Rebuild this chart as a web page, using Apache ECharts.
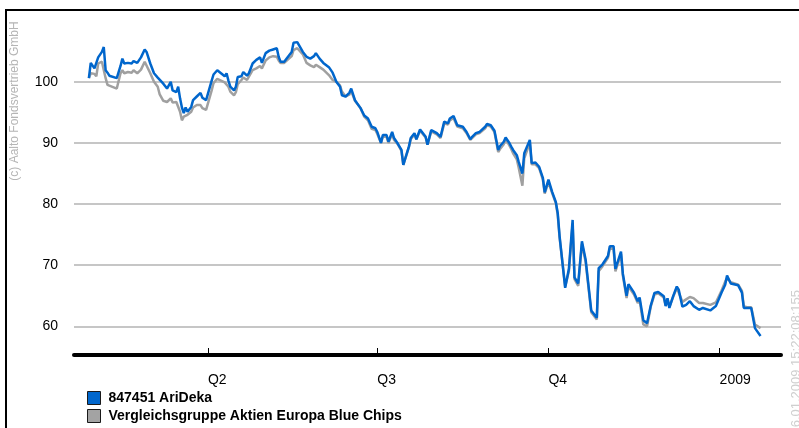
<!DOCTYPE html>
<html>
<head>
<meta charset="utf-8">
<script src="https://cdn.jsdelivr.net/npm/echarts@6/dist/echarts.min.js"></script>
<style>
  html, body { margin: 0; padding: 0; background: #fff; }
  #wrap { position: relative; width: 799px; height: 428px; overflow: hidden; }
  #frame { position: absolute; left: 5px; top: 9px; right: 0; bottom: 0; border-top: 2px solid #000; border-left: 2px solid #000; }
  #chart { position: absolute; left: 0; top: 0; width: 799px; height: 428px; }
</style>
</head>
<body>
<div id="wrap"><div id="frame"></div><div id="chart"></div></div>
<script>
// Day 0 of the horizontal scale
const START_DATE = '2008-01-20';
const END_DATE = '2009-02-03';

// Trading days (days since START_DATE)
const tradingDays = [
  8,9,11,12,13,15,16,17,18,19,
  23,25,26,27,29,31,32,34,36,38,
  39,41,43,45,46,48,50,51,52,53,
  54,55,56,57,58,59,60,61,63,64,
  66,68,69,71,72,74,75,77,78,79,
  81,82,83,84,86,87,88,90,91,93,
  94,96,98,100,101,103,105,107,109,110,
  111,113,114,117,118,120,121,123,125,127,
  129,130,132,134,137,139,141,143,144,146,
  148,149,151,154,156,158,160,162,163,165,
  166,168,169,171,172,174,176,177,178,180,
  181,183,184,186,187,189,190,192,195,197,
  199,201,202,204,205,206,207,209,211,213,
  214,216,218,219,221,222,223,224,225,226,
  228,229,231,232,234,235,236,238,239,241,
  242,245,246,248,250,252,253,255,257,259,
  260,261,262,264,266,268,269,271,273,275,
  278,281,282,284,287,288,290,291,294,295,
  297,298,301,303,304,306,308,310,312,314,
  317,318,319,320,322,324,325,327,329,331,
  333,336,338,342,345,348,350,351,352,353,
  354,357,359,360,362,364,366,367,369
];

// 847451 AriDeka
const ariDeka = [
  100.6,103.1,102.2,102.4,104.0,104.9,105.7,101.9,101.5,101.0,
  100.6,102.6,103.8,103.0,103.1,103.0,103.4,103.1,104.0,105.3,
  104.9,103.0,101.4,100.7,100.4,99.7,98.9,98.6,100.0,98.6,
  98.9,98.3,99.2,97.3,95.8,94.9,95.8,95.1,95.9,97.0,
  97.6,98.2,97.4,97.0,96.7,100.2,101.2,101.9,102.1,101.4,
  100.9,101.4,100.2,99.2,98.6,99.2,100.8,100.9,101.6,101.0,
  101.4,103.0,103.6,104.0,103.1,104.7,105.1,105.3,105.5,104.1,
  103.3,103.3,103.7,104.9,106.4,106.5,106.2,104.9,104.1,103.8,
  104.2,104.7,103.8,103.1,102.4,101.5,100.0,99.2,97.8,97.6,
  98.2,98.9,97.0,95.7,94.5,94.0,92.65,92.4,91.8,90.0,
  91.3,91.3,90.2,91.8,90.8,89.9,88.85,86.4,86.1,89.4,
  90.8,91.6,90.6,92.2,92.4,91.0,89.7,92.1,91.6,91.0,
  93.5,93.2,94.0,94.4,94.4,92.9,93.2,92.65,91.8,90.6,
  91.0,91.6,91.8,91.8,92.65,93.1,92.8,92.9,92.65,92.0,
  88.85,89.5,90.2,90.9,90.0,89.4,88.85,88.0,86.9,85.0,
  88.3,90.5,86.7,86.8,86.1,84.3,81.9,84.0,82.0,80.3,
  78.5,74.7,74.5,66.3,69.4,77.4,68.0,67.0,73.9,70.9,
  62.6,61.4,69.5,70.1,71.5,73.1,73.1,69.4,72.2,68.6,
  65.0,66.9,65.5,64.1,64.7,61.0,60.5,63.4,65.45,65.6,
  64.9,63.3,64.6,63.0,64.9,66.5,66.0,63.2,63.5,64.1,
  63.3,62.7,63.0,62.6,63.3,65.5,66.8,68.3,68.3,67.0,
  67.1,66.7,65.5,63.0,63.0,63.0,59.7,60.0,58.4
];

// Vergleichsgruppe Aktien Europa Blue Chips
const vergleichsgruppe = [
  100.6,101.4,101.3,100.9,103.0,103.3,103.5,100.6,99.5,99.2,
  98.9,101.4,101.9,101.4,101.6,101.5,101.9,101.4,102.0,103.3,
  103.1,101.4,100.0,99.2,98.0,96.9,96.7,97.0,97.3,96.6,
  96.6,96.7,96.8,95.1,93.7,94.3,94.3,94.6,95.1,95.8,
  96.2,96.2,95.7,95.4,95.4,98.6,99.8,100.5,100.7,100.2,
  99.9,99.7,99.2,98.4,97.8,98.3,99.6,100.3,100.7,100.3,
  100.0,101.9,102.2,102.6,102.2,103.5,104.0,104.2,104.1,103.5,
  103.1,103.1,103.4,104.2,105.2,105.5,105.2,104.5,103.1,102.7,
  102.4,102.8,102.4,102.0,101.1,100.3,100.0,99.4,98.4,97.6,
  97.9,98.5,96.9,95.7,94.3,93.7,92.3,92.1,91.5,90.0,
  91.0,91.0,90.0,91.5,90.5,89.8,88.7,86.4,86.1,89.3,
  90.6,91.4,90.6,92.0,92.2,90.9,89.7,91.9,91.4,90.8,
  93.2,93.0,93.7,94.1,94.1,92.7,93.0,92.4,91.6,90.5,
  90.8,91.4,91.6,91.6,92.4,92.9,92.6,92.7,92.4,91.8,
  88.5,89.0,89.8,90.6,89.6,89.0,88.3,87.3,86.0,83.0,
  87.5,90.0,86.5,86.5,85.9,84.0,81.7,83.6,81.8,80.1,
  78.2,74.5,74.3,66.5,69.0,76.8,67.7,66.6,73.5,70.5,
  62.3,61.1,69.0,69.8,71.2,72.8,72.6,69.0,71.8,68.3,
  64.6,66.5,65.2,63.8,64.3,60.3,60.0,63.2,65.2,65.4,
  64.7,63.4,64.5,63.2,64.8,66.3,66.0,64.0,64.4,64.8,
  64.6,63.8,63.8,63.5,63.9,65.8,67.3,67.9,68.0,67.2,
  67.1,66.8,65.8,63.3,63.1,63.1,60.3,60.1,59.7
];

// x-axis tick dates and their labels
const tickDates = ['2008-04-01', '2008-07-01', '2008-10-01', '2009-01-01'];
const tickLabels = ['Q2', 'Q3', 'Q4', '2009'];

const seriesNames = ['847451 AriDeka', 'Vergleichsgruppe Aktien Europa Blue Chips'];
const copyrightText = '(c) Aalto Fondsvertrieb GmbH';
const stampText = '26.01.2009 15:22:08:155';

const dayOf = s => Math.round((Date.parse(s) - Date.parse(START_DATE)) / 86400000);
const tickDays = tickDates.map(dayOf);
const labelFor = {};
tickDays.forEach((d, i) => { labelFor[d] = tickLabels[i]; });

const pair = vals => tradingDays.map((d, i) => [d, vals[i]]);

const FONT = '"Liberation Sans", Arial, sans-serif';
const chart = echarts.init(document.getElementById('chart'), null, { renderer: 'canvas' });
chart.setOption({
  animation: false,
  backgroundColor: 'transparent',
  grid: { left: 74, right: 18, top: 25, bottom: 73, containLabel: false },
  xAxis: {
    type: 'value',
    min: 0,
    max: dayOf(END_DATE),
    axisLine: { show: true, lineStyle: { color: '#000', width: 4 } },
    axisTick: { show: true, inside: true, length: 7, lineStyle: { color: '#000', width: 1 }, customValues: tickDays },
    axisLabel: {
      customValues: tickDays,
      formatter: v => labelFor[Math.round(v)] || '',
      align: 'left', margin: 18, fontSize: 14, color: '#000', fontFamily: FONT
    },
    splitLine: { show: false }
  },
  yAxis: {
    type: 'value',
    min: 55.3,
    max: 109.3,
    axisLine: { show: false },
    axisTick: { show: false },
    axisLabel: { showMinLabel: false, showMaxLabel: false, margin: 16, fontSize: 14, color: '#000', fontFamily: FONT },
    splitLine: { show: true, showMinLine: false, showMaxLine: false, lineStyle: { color: '#b3b3b3', width: 1.5 } }
  },
  legend: {
    orient: 'vertical', left: 87, top: 391, padding: 0,
    height: 34,
    itemWidth: 13, itemHeight: 13, itemGap: 4, icon: 'rect',
    selectedMode: false,
    textStyle: { fontSize: 14, fontWeight: 'bold', color: '#000', fontFamily: FONT, padding: [0, 0, 0, 3] },
    data: [
      { name: seriesNames[0], itemStyle: { color: '#0066cc', borderColor: '#1a1a1a', borderWidth: 1 } },
      { name: seriesNames[1], itemStyle: { color: '#a3a3a3', borderColor: '#1a1a1a', borderWidth: 1 } }
    ]
  },
  graphic: [
    { type: 'text', x: 15, y: 101, rotation: Math.PI / 2,
      style: { text: copyrightText, fill: '#b5b5b5', font: '12px ' + FONT, align: 'center', verticalAlign: 'middle' } },
    { type: 'text', x: 796, y: 290, rotation: Math.PI / 2,
      style: { text: stampText, fill: '#cfcfcf', font: '13px ' + FONT, align: 'right', verticalAlign: 'middle' } }
  ],
  series: [
    { name: seriesNames[1], type: 'line', data: pair(vergleichsgruppe), showSymbol: false, symbol: 'none',
      lineStyle: { color: '#a0a0a0', width: 2.5 }, itemStyle: { color: '#a0a0a0' }, z: 2 },
    { name: seriesNames[0], type: 'line', data: pair(ariDeka), showSymbol: false, symbol: 'none',
      lineStyle: { color: '#0066cc', width: 2.5 }, itemStyle: { color: '#0066cc' }, z: 3 }
  ]
});
</script>
</body>
</html>
